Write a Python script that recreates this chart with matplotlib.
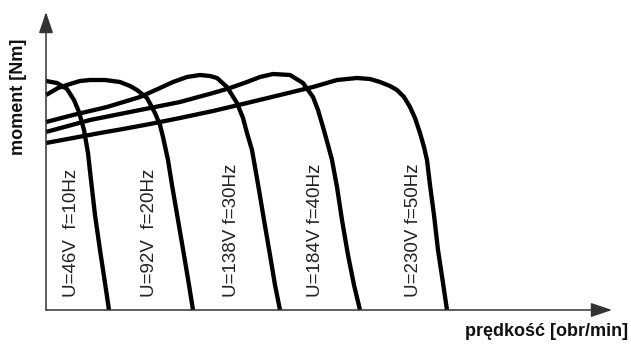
import matplotlib.pyplot as plt

# charakterystyki momentu dla U/f = const (jednostki umowne)
labels = ['U=46V  f=10Hz', 'U=92V  f=20Hz', 'U=138V f=30Hz', 'U=184V f=40Hz', 'U=230V f=50Hz']

speed_10 = [0, 11, 21, 28, 33, 38, 42, 45, 49, 54, 59, 63]
torque_10 = [229, 227, 221, 210, 198, 180, 157, 130, 95, 60, 27, 0]

speed_20 = [0, 12, 24, 34, 44, 59, 74, 84, 91, 101, 109, 114, 117, 122, 126, 132, 138, 143, 147]
torque_20 = [215, 222, 226, 229, 230, 230, 228, 224, 220, 212, 197, 185, 173, 150, 125, 90, 55, 25, 0]

speed_30 = [0, 27, 61, 94, 114, 127, 141, 154, 164, 171, 181, 191, 197, 201, 206, 209, 213, 218, 224, 229, 234]
torque_30 = [188, 195, 203, 213, 222, 228, 233, 235, 234, 232, 223, 207, 192, 177, 160, 143, 120, 90, 55, 25, 0]

speed_40 = [0, 44, 94, 134, 167, 184, 201, 214, 227, 244, 257, 267, 272, 277, 282, 286, 291, 296, 302, 308, 314]
torque_40 = [178, 190, 200, 208, 217, 222, 228, 233, 236, 235, 227, 213, 200, 183, 165, 150, 123, 90, 55, 25, 0]

speed_50 = [0, 27, 54, 77, 104, 134, 167, 201, 234, 267, 291, 311, 324, 334, 344, 351, 358, 364, 369,
            374, 378, 381, 384, 388, 392, 397, 401]
torque_50 = [167, 172, 177, 181, 186, 192, 199, 207, 215, 223, 230, 232, 231, 228, 224, 220, 213, 203, 192,
             177, 163, 150, 125, 95, 60, 27, 0]

label_x = [26, 104, 186, 269, 367]

plt.rcParams['font.family'] = ['Liberation Sans', 'DejaVu Sans']

fig = plt.figure(figsize=(6.31, 3.48), dpi=100)
ax = fig.add_axes([46 / 631, 38 / 348, 566 / 631, 298 / 348])
ax.set_xlim(0, 566)
ax.set_ylim(0, 298)
ax.axis('off')

curves = [(speed_10, torque_10), (speed_20, torque_20), (speed_30, torque_30),
          (speed_40, torque_40), (speed_50, torque_50)]
for s, t in curves:
    ax.plot(s, t, color='black', lw=3.1, solid_joinstyle='round', solid_capstyle='butt', clip_on=False)

for x, lab in zip(label_x, labels):
    ax.text(x, 13, lab, rotation=90, ha='center', va='bottom', fontsize=13.5, color='#222222')

# osie ze strzalkami
arrow = dict(arrowstyle='-|>,head_length=0.65,head_width=0.22', mutation_scale=20,
             color='#333333', lw=1.1, shrinkA=0, shrinkB=0)
ax.annotate('', xy=(1, 0), xytext=(0, 0), xycoords='axes fraction', arrowprops=arrow)
ax.annotate('', xy=(0, 1), xytext=(0, 0), xycoords='axes fraction', arrowprops=arrow)

fig.text(19 / 631, 1 - 97 / 348, 'moment [Nm]', rotation=90, ha='center', va='center',
         fontsize=13, fontweight='bold', color='#111111')
fig.text(628 / 631, 1 - 332 / 348, 'prędkość [obr/min]', ha='right', va='center',
         fontsize=13, fontweight='bold', color='#111111')

plt.savefig('out.png', dpi=100)
